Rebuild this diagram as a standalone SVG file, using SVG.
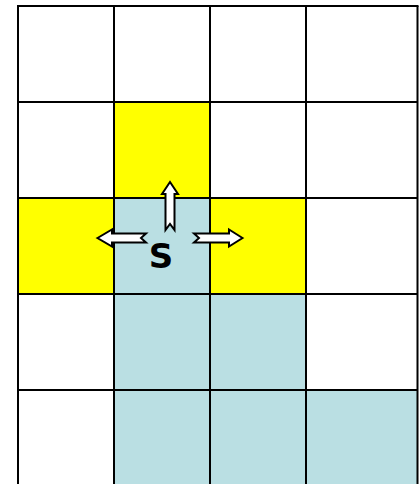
<svg xmlns="http://www.w3.org/2000/svg" width="419" height="484" viewBox="0 0 419 484">
<style>
.w{fill:#FFFFFF}
.y{fill:#FFFF00}
.b{fill:#BADFE3}
.grid{stroke:#000;stroke-width:2;fill:none}
.arr{fill:#FFFFFF;stroke:#000;stroke-width:2;stroke-linejoin:miter}
.lbl{font-family:"Comic Sans MS","DejaVu Sans",sans-serif;font-weight:bold;font-size:34px;fill:#000}
</style>
<rect x="0" y="0" width="419" height="484" fill="#FFFFFF"/>
<g id="cells">
<g id="cell-1-1"><rect class="y" x="114" y="102" width="96" height="96"/></g>
<g id="cell-2-0"><rect class="y" x="18" y="198" width="96" height="96"/></g>
<g id="cell-2-1"><rect class="b" x="114" y="198" width="96" height="96"/></g>
<g id="cell-2-2"><rect class="y" x="210" y="198" width="96" height="96"/></g>
<g id="cell-3-1"><rect class="b" x="114" y="294" width="96" height="96"/></g>
<g id="cell-3-2"><rect class="b" x="210" y="294" width="96" height="96"/></g>
<g id="cell-4-1"><rect class="b" x="114" y="390" width="96" height="94"/></g>
<g id="cell-4-2"><rect class="b" x="210" y="390" width="96" height="94"/></g>
<g id="cell-4-3"><rect class="b" x="306" y="390" width="111.5" height="94"/></g>
</g>
<g id="grid" class="grid">
<path d="M18,6V484M114,6V484M210,6V484M306,6V484M417.5,6V484"/>
<path d="M17,6H418.5M18,102H417.5M18,198H417.5M18,294H417.5M18,390H417.5"/>
</g>
<g id="connectors">
<path class="arr" d="M170,182L178,194H174.5V230L170,224L165.5,230V194H162Z"/>
<path class="arr" d="M97.5,238L112,229.5V233.5H146L141,238L146,242.5H112V246.5Z"/>
<path class="arr" d="M242.5,238L229,229.5V233.5H194L199,238L194,242.5H229V246.5Z"/>
</g>
<g id="node-S"><text class="lbl" x="161" y="268" text-anchor="middle">S</text></g>
</svg>
